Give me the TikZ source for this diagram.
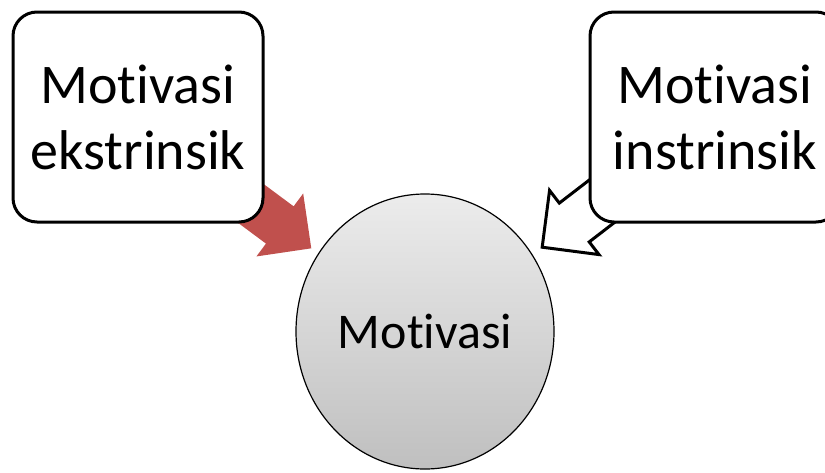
\documentclass[tikz,border=0pt]{standalone}
\usepackage{fontspec}
\setmainfont{Carlito}[Ligatures=NoCommon]
\usetikzlibrary{shapes.arrows,shapes.geometric,positioning,calc,backgrounds}
\definecolor{arrowred}{HTML}{C0504D}

\begin{document}
\begin{tikzpicture}[x=1pt, y=-1pt,
  motivbox/.style={rectangle, draw, line width=3pt, rounded corners=24pt, fill=white, minimum width=250pt, minimum height=210pt, align=center, font=\fontsize{56}{66}\selectfont},
  centre/.style={ellipse, draw, line width=1.2pt, top color=gray!15, bottom color=gray!50, minimum width=258pt, minimum height=275pt, font=\fontsize{50}{54}\selectfont},
  blockarr/.style={single arrow, single arrow head extend=16pt, single arrow tip angle=90, minimum height=140pt, inner xsep=0pt, inner ysep=23pt, anchor=tip}
]
  \useasboundingbox (0,0) rectangle (825,472);
  \clip (0,0) rectangle (825,472);
  \node[motivbox] (ekstrinsik) at (138,117) {Motivasi\\ekstrinsik};
  \node[motivbox] (instrinsik) at (715,117) {Motivasi\\instrinsik};
  \node[centre] (motivasi) at (425,331.5) {Motivasi};
  \begin{scope}[on background layer]
    \node[blockarr, fill=arrowred, rotate=-36.6] (redarr) at ($(ekstrinsik.south east)+(47,25)$) {};
    \node[blockarr, draw, line width=3pt, fill=white, rotate=-142.4] (whitearr) at ($(instrinsik.south west)+(-48,25)$) {};
  \end{scope}
\end{tikzpicture}
\end{document}
